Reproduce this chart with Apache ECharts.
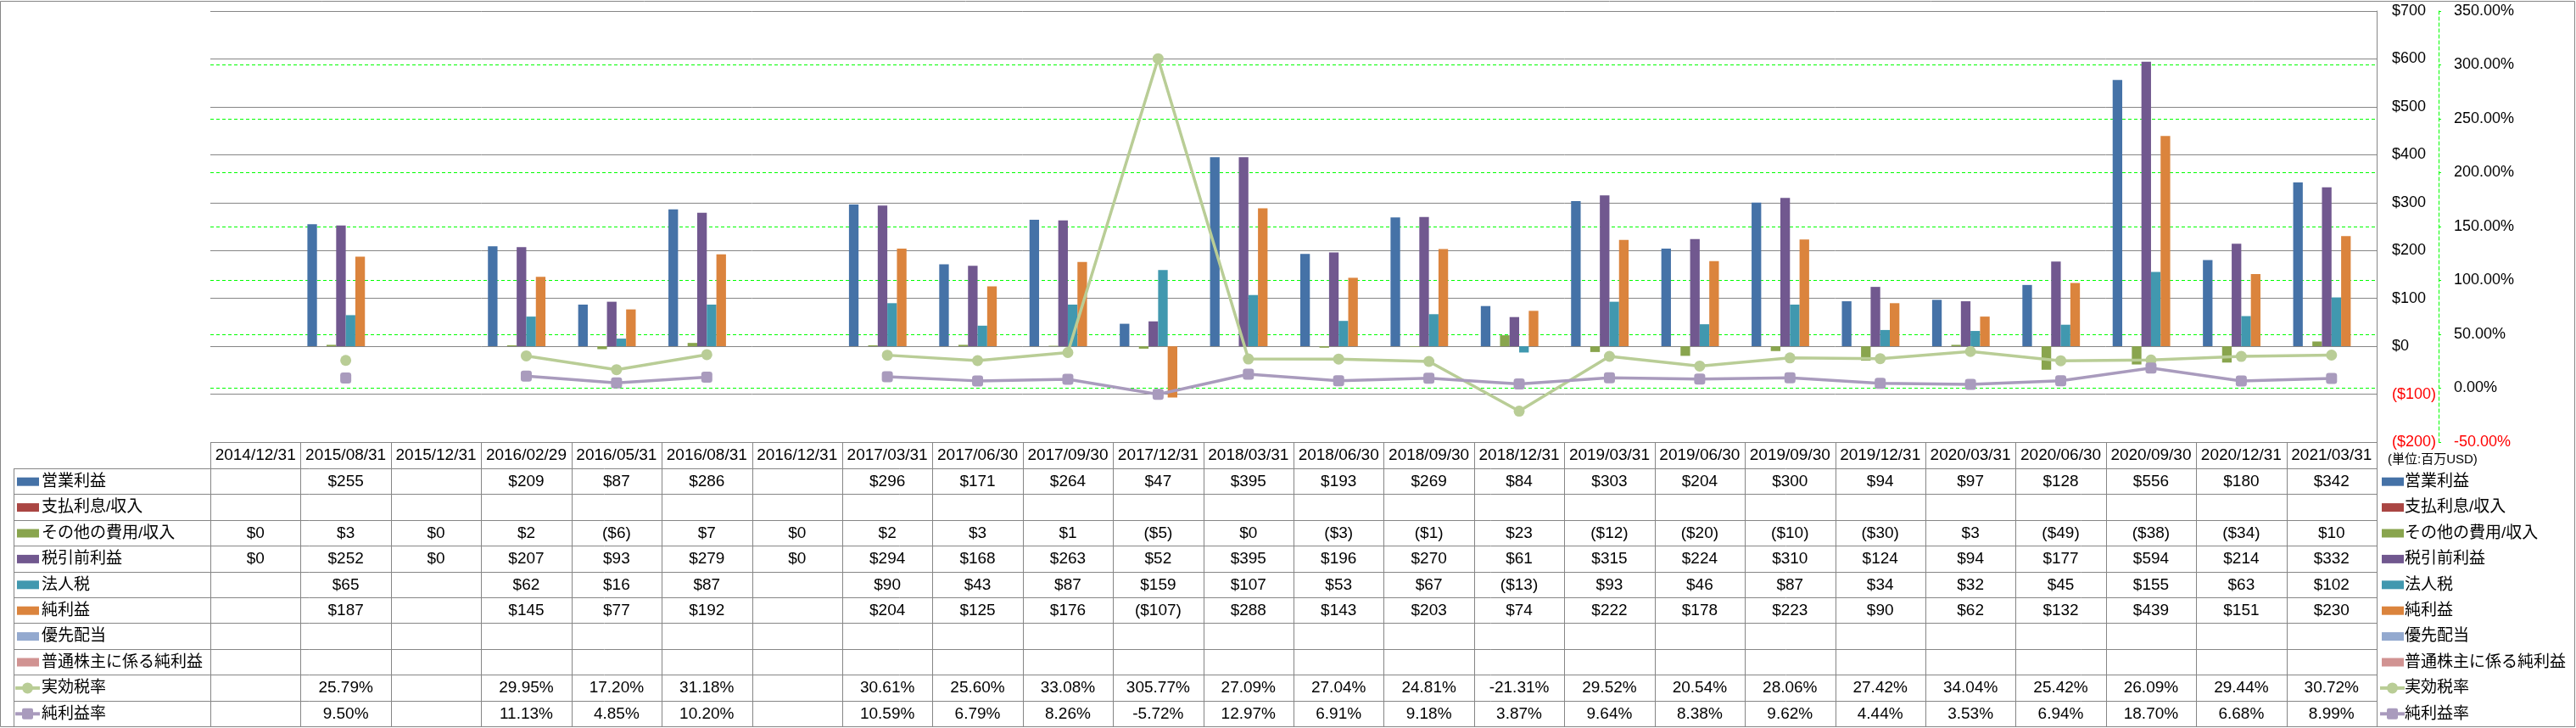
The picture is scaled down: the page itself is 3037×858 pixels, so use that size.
<!DOCTYPE html>
<html><head><meta charset="utf-8">
<script src="https://cdn.jsdelivr.net/npm/echarts@6/dist/echarts.min.js"></script>
<style>html,body{margin:0;padding:0;background:#fff}#c{width:3037px;height:858px}</style>
</head><body><div id="c"></div>
<script>
const categories = ['2014/12/31','2015/08/31','2015/12/31','2016/02/29','2016/05/31','2016/08/31','2016/12/31','2017/03/31','2017/06/30','2017/09/30','2017/12/31','2018/03/31','2018/06/30','2018/09/30','2018/12/31','2019/03/31','2019/06/30','2019/09/30','2019/12/31','2020/03/31','2020/06/30','2020/09/30','2020/12/31','2021/03/31'];
const operatingIncome = [null,255,null,209,87,286,null,296,171,264,47,395,193,269,84,303,204,300,94,97,128,556,180,342];
const interestExpense = [null,null,null,null,null,null,null,null,null,null,null,null,null,null,null,null,null,null,null,null,null,null,null,null];
const otherExpense = [0,3,0,2,-6,7,0,2,3,1,-5,0,-3,-1,23,-12,-20,-10,-30,3,-49,-38,-34,10];
const pretaxIncome = [0,252,0,207,93,279,0,294,168,263,52,395,196,270,61,315,224,310,124,94,177,594,214,332];
const incomeTax = [null,65,null,62,16,87,null,90,43,87,159,107,53,67,-13,93,46,87,34,32,45,155,63,102];
const netIncome = [null,187,null,145,77,192,null,204,125,176,-107,288,143,203,74,222,178,223,90,62,132,439,151,230];
const preferredDividends = [null,null,null,null,null,null,null,null,null,null,null,null,null,null,null,null,null,null,null,null,null,null,null,null];
const netIncomeCommon = [null,null,null,null,null,null,null,null,null,null,null,null,null,null,null,null,null,null,null,null,null,null,null,null];
const effectiveTaxRate = [null,25.79,null,29.95,17.20,31.18,null,30.61,25.60,33.08,305.77,27.09,27.04,24.81,-21.31,29.52,20.54,28.06,27.42,34.04,25.42,26.09,29.44,30.72];
const netMargin = [null,9.50,null,11.13,4.85,10.20,null,10.59,6.79,8.26,-5.72,12.97,6.91,9.18,3.87,9.64,8.38,9.62,4.44,3.53,6.94,18.70,6.68,8.99];
const unitLabel = '(単位:百万USD)';

const FONT = '"Liberation Sans","Noto Sans CJK JP",sans-serif';
const GRAY = '#868686';
const GREEN = '#00FF00';

const rows = [
  {name:'営業利益', data:operatingIncome, color:'#4572A7', kind:'bar', fmt:'money'},
  {name:'支払利息/収入', data:interestExpense, color:'#AA4643', kind:'bar', fmt:'money'},
  {name:'その他の費用/収入', data:otherExpense, color:'#89A54E', kind:'bar', fmt:'money'},
  {name:'税引前利益', data:pretaxIncome, color:'#71588F', kind:'bar', fmt:'money'},
  {name:'法人税', data:incomeTax, color:'#4198AF', kind:'bar', fmt:'money'},
  {name:'純利益', data:netIncome, color:'#DB843D', kind:'bar', fmt:'money'},
  {name:'優先配当', data:preferredDividends, color:'#93A9CF', kind:'bar', fmt:'money'},
  {name:'普通株主に係る純利益', data:netIncomeCommon, color:'#D19392', kind:'bar', fmt:'money'},
  {name:'実効税率', data:effectiveTaxRate, color:'#B9CD96', kind:'line', symbol:'circle', fmt:'pct'},
  {name:'純利益率', data:netMargin, color:'#A99BBD', kind:'line', symbol:'roundRect', fmt:'pct'}
];

function fmtMoney(v){ if(v==null) return ''; return v<0 ? '($'+(-v)+')' : '$'+v; }
function fmtPct(v){ if(v==null) return ''; return v.toFixed(2)+'%'; }

const chart = echarts.init(document.getElementById('c'), null, {renderer:'canvas'});

const series = rows.map(r => {
  if (r.kind === 'bar') {
    return {name:r.name, type:'bar', yAxisIndex:0, data:r.data, barGap:'0%', barCategoryGap:'15%',
      itemStyle:{color:r.color}, emphasis:{disabled:true}};
  }
  return {name:r.name, type:'line', yAxisIndex:1, data:r.data, connectNulls:false, showAllSymbol:true,
    symbol:r.symbol, symbolSize:13, lineStyle:{color:r.color, width:3.5}, itemStyle:{color:r.color},
    emphasis:{disabled:true}, z:5};
});

chart.setOption({
  animation:false,
  grid:{left:248, right:235, top:13, bottom:337, containLabel:false},
  xAxis:{type:'category', data:categories, axisLine:{show:false}, axisTick:{show:false}, axisLabel:{show:false}, splitLine:{show:false}},
  yAxis:[
    {type:'value', position:'right', min:-200, max:700, interval:100, z:1,
      axisLine:{show:true, lineStyle:{color:GRAY, width:1}}, axisTick:{show:false},
      splitLine:{show:true, lineStyle:{color:GRAY, width:1}},
      axisLabel:{margin:18, align:'left', fontSize:18, fontFamily:FONT,
        formatter:v => fmtMoney(Number(v)), color:v => Number(v)<0 ? '#FF0000' : '#000000'}},
    {type:'value', position:'right', offset:73, min:-50, max:350, interval:50, z:0,
      axisLine:{show:true, lineStyle:{color:GREEN, width:1, type:[4,3]}},
      axisTick:{show:true, length:3, lineStyle:{color:GREEN}},
      splitLine:{show:true, showMaxLine:false, showMinLine:false, lineStyle:{color:GREEN, width:1, type:[4,3]}},
      axisLabel:{margin:18, align:'left', fontSize:18, fontFamily:FONT,
        formatter:v => Number(v).toFixed(2)+'%', color:v => Number(v)<0 ? '#FF0000' : '#000000'}}
  ],
  series:series
});

// ---- data table + legend drawn with graphic elements positioned from the axes ----
const cx0 = chart.convertToPixel({xAxisIndex:0}, categories[0]);
const cx1 = chart.convertToPixel({xAxisIndex:0}, categories[1]);
const band = cx1 - cx0;
const tLeft = cx0 - band/2;
const tRight = tLeft + band*categories.length;
const tTop = chart.convertToPixel({yAxisIndex:0}, -200);
const headH = 31, rowH = 30.4;
const labelLeft = 16;
const els = [];
const px = v => Math.round(v) + 0.5;
function hline(x1,x2,y){ els.push({type:'line', silent:true, shape:{x1:x1,y1:px(y),x2:x2,y2:px(y)}, style:{stroke:GRAY, lineWidth:1}}); }
function vline(x,y1,y2){ els.push({type:'line', silent:true, shape:{x1:px(x),y1:y1,x2:px(x),y2:y2}, style:{stroke:GRAY, lineWidth:1}}); }
function text(t,x,y,align,size,color){ els.push({type:'text', silent:true, x:x, y:y, style:{text:t, fill:color||'#000', fontSize:size||19, fontFamily:FONT, align:align||'center', verticalAlign:'middle'}}); }
function key(r, x, yc){
  if (r.kind==='bar') {
    els.push({type:'rect', silent:true, shape:{x:x+2, y:yc-5, width:26, height:10}, style:{fill:r.color}});
  } else {
    els.push({type:'line', silent:true, shape:{x1:x, y1:yc, x2:x+29, y2:yc}, style:{stroke:r.color, lineWidth:4}});
    if (r.symbol==='circle') els.push({type:'circle', silent:true, shape:{cx:x+14.5, cy:yc, r:6.5}, style:{fill:r.color}});
    else els.push({type:'rect', silent:true, shape:{x:x+8, y:yc-6.5, width:13, height:13, r:2}, style:{fill:r.color}});
  }
}

const tBottom = tTop + headH + rowH*rows.length;
// header
hline(tLeft, tRight, tTop);
categories.forEach((c,i) => text(c, tLeft + band*(i+0.5), tTop + headH/2 + 0.5));
// horizontal lines
for (let k=0; k<=rows.length; k++) hline(labelLeft, tRight, tTop + headH + rowH*k);
// vertical lines
vline(labelLeft, tTop+headH, tBottom);
for (let i=0; i<=categories.length; i++) vline(tLeft + band*i, tTop, tBottom);
// rows
rows.forEach((r,k) => {
  const yc = tTop + headH + rowH*(k+0.5) + 0.5;
  key(r, labelLeft+2, yc);
  text(r.name, labelLeft+33, yc, 'left');
  r.data.forEach((v,i) => text(r.fmt==='money' ? fmtMoney(v) : fmtPct(v), tLeft + band*(i+0.5), yc));
  // right legend
  key(r, tRight+4, yc);
  text(r.name, tRight+33, yc, 'left');
});
text(unitLabel, tRight+13, tTop + headH/2 + 5, 'left', 15);
// outer border
els.push({type:'rect', silent:true, shape:{x:0.5, y:1.5, width:3035, height:855}, style:{fill:'none', stroke:GRAY, lineWidth:1}});

chart.setOption({graphic:{elements:els}});
</script>
</body></html>
